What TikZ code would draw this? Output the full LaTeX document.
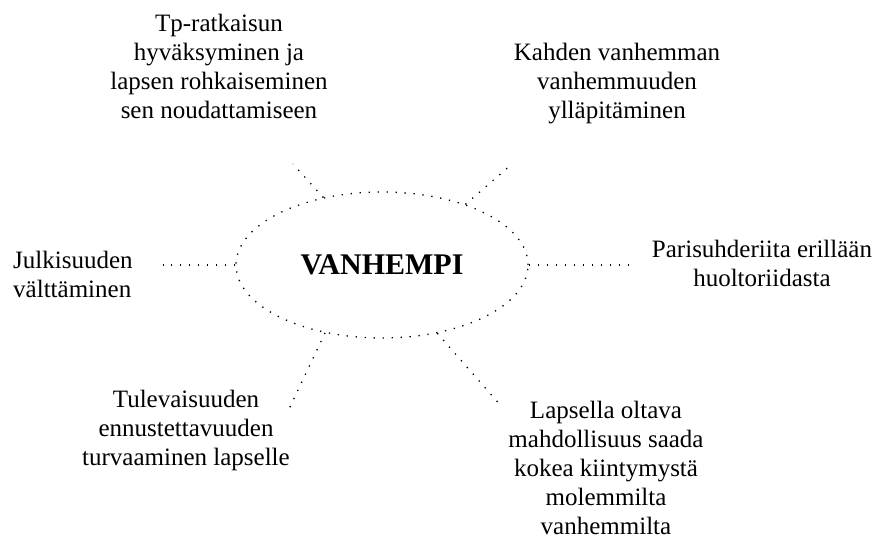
\documentclass[tikz,border=0pt]{standalone}
\usepackage{fontspec}
\setmainfont{Liberation Serif}
\usetikzlibrary{shapes.geometric}
\tikzset{
  dotline/.style={line width=1.3pt, dash pattern=on 1.3pt off 7.7pt},
  lbl/.style={font=\fontsize{25}{29}\selectfont, inner sep=0pt, anchor=base, align=center},
}
\begin{document}
\begin{tikzpicture}[x=1pt,y=-1pt]
\useasboundingbox[fill=white] (0,0) rectangle (875,545);
\node[ellipse, draw, dotline, minimum width=292pt, minimum height=146pt, inner sep=0pt,
      font=\fontsize{30}{34}\selectfont\bfseries] (c) at (382,265) {VANHEMPI};
\node[lbl] (tl) at (219,119) {Tp-ratkaisun\\hyväksyminen ja\\lapsen rohkaiseminen\\sen noudattamiseen};
\node[lbl] (tr) at (617,119) {Kahden vanhemman\\vanhemmuuden\\ylläpitäminen};
\node[lbl, align=left, anchor=base west] (l) at (13,298) {Julkisuuden\\välttäminen};
\node[lbl] (r) at (762,287) {Parisuhderiita erillään\\huoltoriidasta};
\node[lbl] (bl) at (186,465) {Tulevaisuuden\\ennustettavuuden\\turvaaminen lapselle};
\node[lbl] (br) at (606,534) {Lapsella oltava\\mahdollisuus saada\\kokea kiintymystä\\molemmilta\\vanhemmilta};
\coordinate (otl) at (293,164);
\coordinate (otr) at (512,164);
\coordinate (ol) at (163,265);
\coordinate (or) at (628,265);
\coordinate (obl) at (289,409);
\coordinate (obr) at (502,407);
\draw[dotline] (c.131) -- (otl);
\draw[dotline] (c.36) -- (otr);
\draw[dotline] (c.180) -- (ol);
\draw[dotline] (c.0) -- (or);
\draw[dotline] (c.230) -- (obl);
\draw[dotline] (c.309) -- (obr);
\end{tikzpicture}
\end{document}
